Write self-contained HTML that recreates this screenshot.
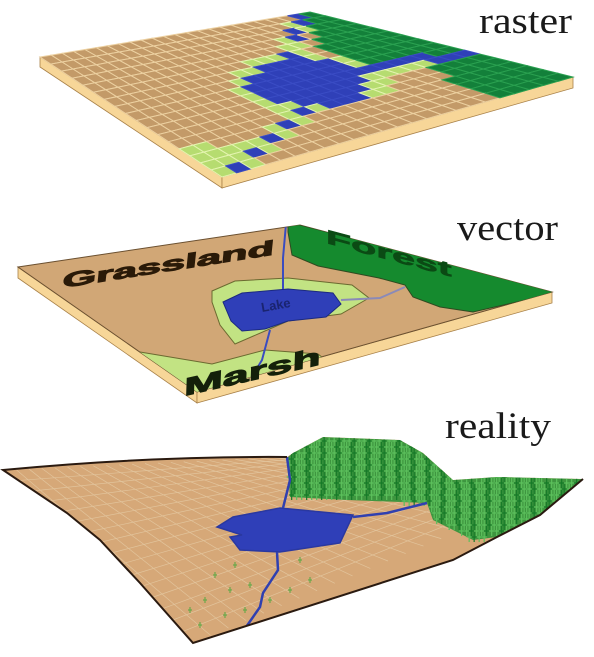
<!DOCTYPE html>
<html><head><meta charset="utf-8">
<style>
html,body{margin:0;padding:0;background:#fff;}
svg{display:block;}
text.lbl{font-family:"Liberation Serif",serif;font-size:37px;fill:#1a1a1a;}
</style></head>
<body>
<svg id="fig" width="594" height="657" viewBox="0 0 594 657" xmlns="http://www.w3.org/2000/svg">
  <defs>
    <clipPath id="vclip"><polygon points="18,267 300,225 552,292 197,392"/></clipPath>
    <clipPath id="rclip"><path d="M3,470 Q150,456 287,457 L293,453 L323,437 L400,440 L423,453 L453,480 L497,477 L583,479 L540,515 L497,537 L453,560 L193,643 L140,583 L100,540 L67,513 Z"/></clipPath>
  </defs>

  <!-- RASTER -->
  <g>
    <polygon points="40,57 222,177 222,188 40,67" fill="#f7d698" stroke="#a88048" stroke-width="0.8"/>
    <polygon points="222,177 573,77 573,88 222,188" fill="#f7d698" stroke="#a88048" stroke-width="0.8"/>
    <g id="rgrid"></g>
    <text class="lbl" x="479" y="33" textLength="93" lengthAdjust="spacingAndGlyphs">raster</text>
  </g>

  <!-- VECTOR -->
  <g>
    <polygon points="18,267 197,392 197,403 18,278" fill="#f7d698" stroke="#a88048" stroke-width="0.8"/>
    <polygon points="197,392 552,292 552,303 197,403" fill="#f7d698" stroke="#a88048" stroke-width="0.8"/>
    <polygon points="18,267 300,225 552,292 197,392" fill="#d1a776" stroke="#6b5030" stroke-width="1"/>
    <g clip-path="url(#vclip)">
      <polygon points="288,222 300,225 560,292 473,312 440,307 413,297 405,285 379,278 318,266 292,255 288,232" fill="#158a2e" stroke="#2f4a20" stroke-width="1"/>
      <polygon points="212,291 235,281 288,278 352,285 369,298 341,314 288,321 265,331 235,344 220,325 212,302" fill="#c2e383" stroke="#6b6a30" stroke-width="1"/>
      <polygon points="140,352 212,364 265,350 318,354 333,366 330,380 240,420 140,420" fill="#c2e383" stroke="#6b6a30" stroke-width="1"/>
      <polygon points="223,302 242,293 288,289 333,293 341,304 326,317 288,321 265,329 242,331 231,321" fill="#2f3fb8" stroke="#1c2a80" stroke-width="1"/>
      <polyline points="286,224 283,258 283,289" fill="none" stroke="#3a4cc0" stroke-width="2"/>
      <polyline points="341,300 380,298 405,287" fill="none" stroke="#8a8ab8" stroke-width="2"/>
      <polyline points="270,330 262,360 238,400" fill="none" stroke="#3a4cc0" stroke-width="2"/>
    </g>
    <text transform="translate(62,288) rotate(-9) skewX(-15)" font-family="Liberation Sans, sans-serif" font-weight="bold" font-size="20" fill="#2a1a08" stroke="#2a1a08" stroke-width="1" textLength="214" lengthAdjust="spacingAndGlyphs">Grassland</text>
    <text transform="translate(326,243) rotate(15) skewX(15)" font-family="Liberation Sans, sans-serif" font-weight="bold" font-size="19" fill="#0b4a14" stroke="#0b4a14" stroke-width="0.6" textLength="130" lengthAdjust="spacingAndGlyphs">Forest</text>
    <text transform="translate(184,396) rotate(-13) skewX(-15)" font-family="Liberation Sans, sans-serif" font-weight="bold" font-size="24" fill="#14200a" stroke="#14200a" stroke-width="1" textLength="140" lengthAdjust="spacingAndGlyphs">Marsh</text>
    <text transform="translate(262,312) rotate(-10)" font-family="Liberation Sans, sans-serif" font-weight="bold" font-size="13" fill="#1a2470">Lake</text>
    <text class="lbl" x="457" y="240" textLength="101" lengthAdjust="spacingAndGlyphs">vector</text>
  </g>

  <!-- REALITY -->
  <g>
    <g clip-path="url(#rclip)">
      <rect x="0" y="430" width="594" height="227" fill="#d6a878"/>
      <g id="rtex"></g>
      <polygon points="287,458 293,453 323,437 400,440 423,453 453,480 497,477 583,479 540,515 497,537 473,540 433,520 427,503 347,500 290,497" fill="#2e9238" opacity="0.9"/>
      <g id="trees"></g>
      <polygon points="217,527 233,517 280,508 353,515 340,543 280,552 240,550 230,537 242,535" fill="#2f3fb8" stroke="#2a38a0" stroke-width="1.5"/>
      <polyline points="287,457 290,480 283,508" fill="none" stroke="#3040b0" stroke-width="2.5"/>
      <polyline points="353,517 387,513 427,503" fill="none" stroke="#3040b0" stroke-width="2.5"/>
      <polyline points="277,552 278,570 263,593 260,607 237,640" fill="none" stroke="#3040b0" stroke-width="2.5"/>
    </g>
    <path d="M287,457 Q150,456 3,470 L67,513 L100,540 L140,583 L193,643 L453,560 L497,537 L540,515 L583,479" fill="none" stroke="#2a1a10" stroke-width="2"/>
    <text class="lbl" x="445" y="438" textLength="106" lengthAdjust="spacingAndGlyphs">reality</text>
  </g>
</svg>
<script>
var NS="http://www.w3.org/2000/svg";
var rasterCorners=[[40,57],[310,12],[573,77],[222,177]];
var rasterCols=24, rasterRows=17;
var lake={cx:310,cy:83,rx:52,ry:19};
var riverNorth=[[307,13],[297,33],[292,62]];
var riverEast=[[350,72],[433,58],[478,49]];
var riverSouth=[[312,100],[283,133],[250,157],[238,170]];
var forestPoly=[[305,8],[585,77],[573,84],[490,99],[433,68],[433,60],[360,62],[318,45]];
var marshPoly=[[150,150],[265,140],[250,195],[150,195]];

function bil(c,u,v){
  var x=(1-u)*(1-v)*c[0][0]+u*(1-v)*c[1][0]+u*v*c[2][0]+(1-u)*v*c[3][0];
  var y=(1-u)*(1-v)*c[0][1]+u*(1-v)*c[1][1]+u*v*c[2][1]+(1-u)*v*c[3][1];
  return [x,y];
}
function segDist(p,a,b){
  var dx=b[0]-a[0],dy=b[1]-a[1];var t=((p[0]-a[0])*dx+(p[1]-a[1])*dy)/(dx*dx+dy*dy);
  t=Math.max(0,Math.min(1,t));var x=a[0]+t*dx-p[0],y=a[1]+t*dy-p[1];return Math.sqrt(x*x+y*y);
}
function lineDist(p,l){var d=1e9;for(var i=0;i<l.length-1;i++)d=Math.min(d,segDist(p,l[i],l[i+1]));return d;}
function inPoly(p,poly){var c=false;for(var i=0,j=poly.length-1;i<poly.length;j=i++){
  var xi=poly[i][0],yi=poly[i][1],xj=poly[j][0],yj=poly[j][1];
  if(((yi>p[1])!=(yj>p[1]))&&(p[0]<(xj-xi)*(p[1]-yi)/(yj-yi)+xi))c=!c;}return c;}
function waterDist(p){
  var e=Math.sqrt(Math.pow((p[0]-lake.cx)/lake.rx,2)+Math.pow((p[1]-lake.cy)/lake.ry,2));
  var dl=(e-1)*Math.min(lake.rx,lake.ry);
  return Math.min(dl,lineDist(p,riverNorth),lineDist(p,riverEast),lineDist(p,riverSouth));
}
var rg=document.getElementById('rgrid');
for(var j=0;j<rasterRows;j++){for(var i=0;i<rasterCols;i++){
  var u0=i/rasterCols,u1=(i+1)/rasterCols,v0=j/rasterRows,v1=(j+1)/rasterRows;
  var ctr=bil(rasterCorners,(u0+u1)/2,(v0+v1)/2);
  var wd=waterDist(ctr);
  var fill="#c39a68", stroke="#ecd0a0";
  if(wd<4){fill="#2f40b8";stroke="#3a4cc4";}
  else if(inPoly(ctr,forestPoly)){fill="#13803a";stroke="#2aa050";}
  else if(wd<10||inPoly(ctr,marshPoly)){fill="#b6dc70";stroke="#e4f4b0";}
  var pts=[bil(rasterCorners,u0,v0),bil(rasterCorners,u1,v0),bil(rasterCorners,u1,v1),bil(rasterCorners,u0,v1)];
  var poly=document.createElementNS(NS,'polygon');
  poly.setAttribute('points',pts.map(function(p){return p[0].toFixed(1)+','+p[1].toFixed(1);}).join(' '));
  poly.setAttribute('fill',fill);poly.setAttribute('stroke',stroke);poly.setAttribute('stroke-width','1');
  
  
  rg.appendChild(poly);
}}
var rt=document.getElementById('rtex');
var realCorners=[[3,470],[287,457],[583,479],[193,643]];
for(var k=1;k<22;k++){
  var a=bil(realCorners,k/22,0),b=bil(realCorners,k/22,1);
  var l=document.createElementNS(NS,'line');
  l.setAttribute('x1',a[0]);l.setAttribute('y1',a[1]);l.setAttribute('x2',b[0]);l.setAttribute('y2',b[1]);
  l.setAttribute('stroke','#e2c49c');l.setAttribute('stroke-width','0.7');
  
  
  rt.appendChild(l);
}
for(var k=1;k<16;k++){
  var a=bil(realCorners,0,k/16),b=bil(realCorners,1,k/16);
  var l=document.createElementNS(NS,'line');
  l.setAttribute('x1',a[0]);l.setAttribute('y1',a[1]);l.setAttribute('x2',b[0]);l.setAttribute('y2',b[1]);
  l.setAttribute('stroke','#e2c49c');l.setAttribute('stroke-width','0.7');
  
  
  rt.appendChild(l);
}
var tg=document.getElementById('trees');
var treeArea=[[287,458],[293,453],[323,437],[400,440],[423,453],[453,480],[497,477],[583,479],[540,515],[497,537],[473,540],[433,520],[427,503],[347,500],[290,497]];
for(var y=436;y<545;y+=6){for(var x=285;x<590;x+=5){
  var p=[x+((y/6)%2)*2.5,y];
  if(!inPoly(p,treeArea))continue;
  var t=document.createElementNS(NS,'path');
  t.setAttribute('d','M'+p[0]+','+(p[1]-6)+' v10 M'+(p[0]-2.5)+','+(p[1]-1)+' h5');
  t.setAttribute('stroke',((x+y)%3==0)?'#157a28':'#5cc05c');t.setAttribute('stroke-width','1.2');
  
  
  tg.appendChild(t);
}}
var shrubs=[[215,575],[230,590],[205,600],[250,585],[225,615],[200,625],[245,610],[270,600],[290,590],[310,580],[190,610],[260,625],[235,565],[300,560]];
shrubs.forEach(function(s){
  var c=document.createElementNS(NS,'path');
  c.setAttribute('d','M'+s[0]+','+(s[1]-3)+' v6 M'+(s[0]-2)+','+s[1]+' h4');
  c.setAttribute('stroke','#6aa84a');c.setAttribute('stroke-width','1.2');
  
  
  tg.appendChild(c);
});
</script>
</body></html>
